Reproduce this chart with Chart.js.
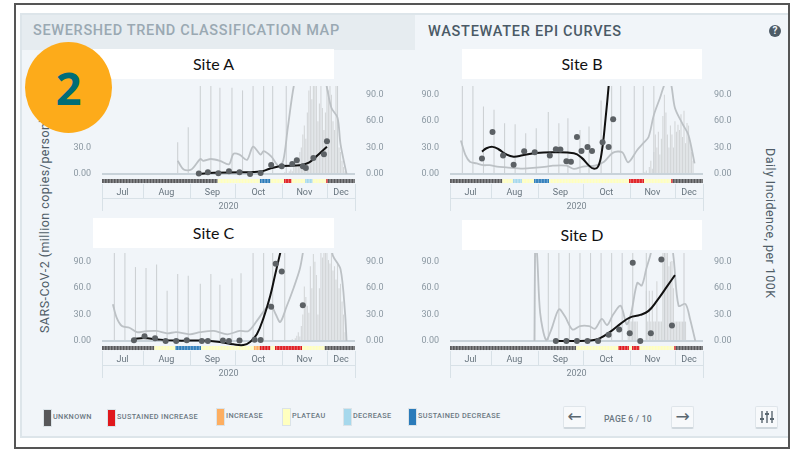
<!DOCTYPE html>
<html>
<head>
<meta charset="utf-8">
<script src="https://cdn.jsdelivr.net/npm/chart.js@4"></script>
<style>
  html, body { margin: 0; padding: 0; background: #fff; }
  body { width: 798px; height: 449px; position: relative; overflow: hidden; font-family: Roboto, sans-serif; }
  .abs { position: absolute; }
  #frame { left: 14px; top: 3px; width: 772px; height: 442px; border: 2px solid #555; border-bottom-width: 2px; box-sizing: content-box; }
  #panel { left: 20px; top: 13px; width: 768px; height: 425px; background: #f1f5f9; border-top: 2px solid #dde5ea; border-left: 2px solid #dde5ea; border-bottom: 2px solid #dde5ea; box-sizing: border-box; }
  #tab { left: 22px; top: 15px; width: 393px; height: 35px; background: #e6ecf0; }
  .tabtext { font-weight: 500; font-size: 14.5px; white-space: nowrap; }
  .site { background: #fff; color: #111; font: 16px Lato, sans-serif; text-align: center; line-height: 30px; height: 30px; }
  canvas { position: absolute; }
  #badge { left: 25px; top: 42px; width: 87px; height: 91px; border-radius: 50%; background: #fdab1a; color: #006d77; font: bold 45px/91px "Open Sans", sans-serif; text-align: center; z-index: 5; }
  .ytitle { color: #4f5d68; font-size: 12.5px; white-space: nowrap; letter-spacing: .45px; transform-origin: 0 0; }
  .swatch { width: 7px; height: 16px; border: 1px solid #dbe3e8; box-sizing: content-box; }
  .legtext { font-weight: 500; font-size: 7.3px; color: #6b7882; white-space: nowrap; letter-spacing: .35px; }
  .btn { width: 21px; height: 20px; background: #f7f9fb; border: 1px solid #dfe5ea; border-bottom: 2px solid #cfd7dd; border-radius: 2px; color: #5a6770; text-align: center; font: 17px/18px "DejaVu Sans", sans-serif; }
</style>
</head>
<body>
<div class="abs" id="panel"></div>
<div class="abs" id="frame"></div>
<div class="abs" id="tab"></div>
<div class="abs tabtext" style="left:33px;top:22px;color:#9aa9b3;letter-spacing:.67px">SEWERSHED TREND CLASSIFICATION MAP</div>
<div class="abs tabtext" style="left:428px;top:23px;color:#4a5a66;letter-spacing:.74px">WASTEWATER EPI CURVES</div>
<div class="abs" style="left:769px;top:25px;width:12px;height:12px;border-radius:50%;background:#4d5b66;color:#f1f5f9;font:bold 10px/12px Roboto;text-align:center">?</div>

<div class="abs site" style="left:93px;top:49px;width:241px">Site A</div>
<div class="abs site" style="left:462px;top:49px;width:240px">Site B</div>
<div class="abs site" style="left:93px;top:218px;width:241px">Site C</div>
<div class="abs site" style="left:462px;top:220px;width:240px">Site D</div>

<div class="abs ytitle" style="left:37px;top:333px;transform:rotate(-90deg)">SARS-CoV-2 (million copies/person)</div>
<div class="abs ytitle" style="left:778px;top:148px;transform:rotate(90deg)">Daily Incidence, per 100K</div>

<div class="abs" id="badge">2</div>

<div id="legend"></div>
<div class="abs btn" style="left:563px;top:406px">←</div>
<div class="abs legtext" style="left:604px;top:414px;font-size:8.6px;letter-spacing:.2px">PAGE 6 / 10</div>
<div class="abs btn" style="left:671px;top:406px">→</div>
<div class="abs btn" style="left:755px;top:406px">
  <svg width="14" height="14" viewBox="0 0 14 14" style="margin-top:3px" stroke="#5a6770" stroke-width="1.4">
    <path d="M2 1v12M7 1v12M12 1v12"/><path d="M0 9h4M5 4h4M10 9h4" stroke-width="2"/>
  </svg>
</div>

<script>
// x values are days counted from Jun 30 (31 = Jul 31)
const monthNames = ["Jul", "Aug", "Sep", "Oct", "Nov", "Dec"];
const monthEdges = [3.8, 31, 62, 92, 123, 153, 171.6];
const yearLabel = "2020";
const yTicks = [0, 30, 60, 90];

const legendNames = ["UNKNOWN", "SUSTAINED INCREASE", "INCREASE", "PLATEAU", "DECREASE", "SUSTAINED DECREASE"];
const legendColors = ["#58585a", "#e0181c", "#fdae61", "#ffffbf", "#a6d8ec", "#2b7bba"];

// Site A
const aPointDays = [68, 74, 81, 88, 95, 102, 109, 116, 123, 130, 133, 137, 139, 144, 151, 153];
const aPointVals = [0.4, 1.9, 0.8, 3, 1.9, 0, 1.1, 10.3, 8.7, 11.4, 15.6, 8.7, 6.8, 18.2, 22.4, 37.2];
const aTrendDays = [68, 78, 95, 109, 115, 123, 135, 141, 146, 153];
const aTrendVals = [0, 1.5, 1.9, 2.7, 6, 9, 10, 13, 20, 31];
const aLineDays = [54, 58, 63, 69, 71, 76, 82, 88, 91, 95, 100, 104, 109, 111, 116, 121, 124, 127, 131, 135, 149, 153, 156, 160, 162, 166];
const aLineVals = [15, 5, 5, 17, 15, 17, 15, 11, 23, 22, 16, 31, 22, 26, 20, 9, 15, 52, 100, 125, 130, 98, 75, 64, 34, 0];
const aSpikeDays = [54, 61, 69, 76, 82, 90, 97, 104, 111, 117, 126, 160];
const aSpikeVals = [36, 53, 110, 110, 98, 98, 95, 110, 110, 110, 110, 110];
const aDailyStart = 125;
const aDaily = [2, 1, 0, 3, 5, 3, 8, 12, 10, 18, 25, 30, 45, 55, 40, 70, 95, 100, 85, 100, 105, 100, 60, 80, 100, 75, 50, 70, 100, 95, 100, 90, 60, 50, 100, 45, 30, 25, 15, 8, 3];
const aStatusEnds = [81, 109, 116, 125, 130, 139, 144, 153, 154, 172];
const aStatusNames = [0, 3, 5, 3, 1, 3, 4, 3, 1, 0];

// Site B
const bPointDays = [25, 32, 39, 46, 53, 60, 70, 74, 77, 81, 84, 88, 91, 95, 98, 105, 109, 112];
const bPointVals = [17.5, 47.8, 20.9, 10.6, 25.8, 24.7, 20.9, 28.1, 27.7, 14.4, 14, 42.1, 26.2, 30.8, 26.2, 36.1, 30.8, 62.3];
const bTrendDays = [25, 28, 32, 36, 41, 46, 52, 61, 72, 86, 91, 96, 99, 102, 104.5, 107, 109, 111];
const bTrendVals = [25.4, 29.2, 30.8, 28.1, 22.4, 19.7, 21.3, 23.9, 24.7, 23.5, 18.6, 9.5, 6.1, 8.4, 25.4, 63.4, 99.5, 143];
const bLineDays = [11, 14, 17, 21.5, 26, 30, 35, 41, 52, 61, 68, 72, 81, 86, 92, 100, 106, 112, 118, 122, 128, 132, 135.5, 139, 143, 147, 150, 153, 158, 162, 166];
const bLineVals = [38, 21.6, 14, 12, 10, 10, 8.4, 7.6, 6.1, 7.2, 8.4, 9.5, 9.5, 5.7, 8.4, 9.5, 14, 24.3, 24.7, 13.3, 27.3, 35, 42, 67, 86, 105, 105, 75, 57, 44, 12];
const bSpikeDays = [12, 19, 26, 33, 40, 47, 54, 61, 69, 76, 82, 90, 96, 104, 111, 117, 126, 132, 139];
const bSpikeVals = [110, 110, 76.7, 72.9, 57.7, 56.6, 46.3, 52, 70.4, 57.7, 63.4, 50.1, 53.9, 83.5, 110, 110, 110, 110, 110];
const bDailyStart = 130;
const bDaily = [0, 1, 1, 2, 4, 1, 8, 15, 6, 25, 45, 30, 48, 22, 40, 66, 90, 70, 45, 30, 55, 45, 30, 60, 48, 56, 50, 68, 42, 72, 35, 58, 55, 38, 25, 15];
const bStatusEnds = [39, 46, 52, 60, 70, 123, 133, 151, 152, 172];
const bStatusNames = [0, 3, 4, 3, 5, 3, 1, 3, 1, 0];

// Site C
const cPointDays = [25, 32, 39, 46, 53, 60, 70, 74, 84, 88, 95, 105, 109, 116, 119, 123, 137];
const cPointVals = [0.8, 5.3, 3, 0, 0, 0.8, 0, 0, 0.4, 0, 0.4, 1.5, 1.1, 39, 87.7, 79, 40.6];
const cTrendDays = [25, 32, 40, 53, 69, 82, 91, 97.6, 102, 106.5, 111, 115.4, 118.7, 122, 124.6];
const cTrendVals = [2.3, 3.4, 1.9, 0.4, 0.4, -1.1, -3.8, -4.6, -1.1, 7.6, 26.6, 51.3, 75.9, 99.9, 119];
const cLineDays = [11, 13.5, 17, 22, 27, 32, 40, 47, 53, 62, 69, 78, 87, 95, 101, 106.5, 112, 115.4, 119, 122, 126, 131, 135, 137, 139, 153, 157, 162, 165, 166];
const cLineVals = [41.8, 26.6, 17, 15, 10, 11, 11.4, 8.7, 10, 7.6, 10, 11.4, 7.6, 11.4, 11.4, 22.8, 36, 41.8, 30.4, 21.6, 38, 60.8, 81.7, 100, 123, 123, 96.8, 81.7, 32, 0];
const cSpikeDays = [12, 19, 26, 33, 40, 47, 54, 61, 69, 76, 82, 90, 96, 104, 111, 117, 125];
const cSpikeVals = [110, 110, 84, 83, 87, 57, 76, 74, 65, 76, 64, 71, 77, 110, 110, 110, 110];
const cDailyStart = 128;
const cDaily = [0, 1, 2, 1, 3, 6, 10, 5, 17, 30, 62, 50, 40, 32, 85, 60, 99, 90, 75, 30, 60, 100, 95, 100, 105, 100, 92, 88, 100, 80, 85, 70, 90, 60, 65, 45, 30, 10];
const cStatusEnds = [39, 53, 70, 105, 109, 116, 119, 137, 152, 172];
const cStatusNames = [0, 3, 5, 3, 2, 1, 3, 1, 3, 0];

// Site D
const dPointDays = [74, 81, 88, 95, 102, 109, 116, 123, 125, 130, 137, 144, 151];
const dPointVals = [0, 0, 0, 0, 0, 7.2, 12.9, 8.7, 88.8, 0, 8.7, 92.6, 17.5];
const dTrendDays = [74, 86, 97, 103, 110, 117, 123, 130, 135.5, 141, 148, 153];
const dTrendVals = [0, 0, 0.5, 3, 10.3, 19.7, 26.6, 29.6, 34.2, 45.6, 62.6, 74.8];
const dLineDays = [59.8, 60.4, 61.5, 63.6, 67.5, 71, 76, 80, 85, 90, 96, 100, 104.5, 108, 112, 117, 121, 124, 128, 131, 134, 137, 139, 149, 152, 155.4, 160, 163, 166.5];
const dLineVals = [0, 110, 100, 32, 1, 13, 36, 28, 13, 17, 17, 14, 25, 18, 30, 40, 19, 32, 66, 63, 82, 100, 123, 123, 96, 40, 42, 25, 0];
const dSpikeDays = [60, 69, 76, 83, 90, 97, 104, 111, 118, 125, 134, 146, 159];
const dSpikeVals = [110, 110, 110, 110, 110, 110, 110, 110, 110, 110, 110, 110, 110];
const dDailyStart = 122;
const dDaily = [22, 22, 22, 22, 22, 22, 22, 0, 0, 0, 0, 0, 57, 22, 57, 22, 57, 22, 22, 68, 22, 22, 22, 100, 110, 110, 110, 85, 90, 91, 60, 22, 22, 22, 22, 22, 22, 22, 22, 0, 0, 0];
const dStatusEnds = [88, 116, 123, 125, 130, 153, 154, 172];
const dStatusNames = [0, 3, 1, 3, 1, 3, 1, 0];

function zip(xs, ys) {
  return xs.map((x, i) => ({ x: x, y: ys[i] }));
}

// one small floating bar per day for the status strip under the plot
function statusBars(ends, names) {
  const bars = [];
  let day = 4;
  ends.forEach((end, i) => {
    for (; day < end; day++) {
      bars.push({ x: day, y: [-10.3, -5.7], status: names[i] });
    }
  });
  return bars;
}

const monthBands = {
  id: "monthBands",
  afterDraw(chart) {
    const ctx = chart.ctx;
    const x = chart.scales.x;
    const top = chart.chartArea.bottom;
    ctx.save();
    ctx.strokeStyle = "#d8e1e7";
    ctx.lineWidth = 1;
    ctx.beginPath();
    monthEdges.forEach((edge, i) => {
      const px = Math.round(x.getPixelForValue(edge)) + 0.5;
      const outer = i === 0 || i === monthEdges.length - 1;
      ctx.moveTo(px, top);
      ctx.lineTo(px, top + (outer ? 27 : 14));
    });
    ctx.moveTo(x.left, top + 14.5);
    ctx.lineTo(x.right, top + 14.5);
    ctx.stroke();
    ctx.restore();
  },
};

function makeChart(left, top, s) {
  const canvas = document.createElement("canvas");
  canvas.width = 337;
  canvas.height = 129;
  canvas.style.left = left + "px";
  canvas.style.top = top + "px";
  document.body.appendChild(canvas);

  const noPad = (scale) => {
    scale.paddingTop = 0;
    scale.paddingBottom = 0;
    scale.paddingLeft = 0;
    scale.paddingRight = 0;
  };
  const yAxis = (position) => ({
    position: position,
    min: -11.4,
    max: 100,
    afterBuildTicks: (scale) => {
      scale.ticks = yTicks.map((v) => ({ value: v }));
    },
    afterFit: (scale) => {
      scale.width = 42;
      noPad(scale);
    },
    border: { display: false },
    grid: {
      drawTicks: false,
      lineWidth: 2,
      color: (c) => (c.tick && c.tick.value === 0 && position === "left" ? "#c8d2d9" : "transparent"),
    },
    ticks: {
      padding: 11,
      color: "#8b98a2",
      font: { family: "Roboto", size: 9 },
      callback: (v) => (v === 0 ? "0.00" : v.toFixed(1)),
    },
  });

  new Chart(canvas, {
    type: "bar",
    data: {
      datasets: [
        {
          type: "scatter",
          data: zip(s.pointDays, s.pointVals),
          backgroundColor: "#5c6165",
          borderWidth: 0,
          pointRadius: 3,
          order: 0,
        },
        {
          type: "line",
          data: zip(s.trendDays, s.trendVals),
          borderColor: "#111",
          borderWidth: 2,
          pointRadius: 0,
          tension: 0.4,
          order: 1,
        },
        {
          type: "line",
          data: zip(s.lineDays, s.lineVals),
          borderColor: "#bcc1c5",
          borderWidth: 1.8,
          pointRadius: 0,
          tension: 0.3,
          order: 2,
        },
        {
          data: zip(s.spikeDays, s.spikeVals),
          backgroundColor: "#cdd1d4",
          grouped: false,
          maxBarThickness: 1.3,
          order: 3,
        },
        {
          data: s.daily.map((v, i) => ({ x: s.dailyStart + i, y: v })),
          backgroundColor: "#d3d6d8",
          grouped: false,
          maxBarThickness: 1.3,
          order: 4,
        },
        {
          data: statusBars(s.statusEnds, s.statusNames),
          backgroundColor: (c) => (c.raw ? legendColors[c.raw.status] : "#000"),
          grouped: false,
          barPercentage: 0.9,
          categoryPercentage: 1,
          order: 5,
        },
      ],
    },
    options: {
      responsive: false,
      animation: false,
      layout: { padding: 0 },
      plugins: { legend: { display: false }, tooltip: { enabled: false } },
      scales: {
        x: {
          type: "linear",
          position: "bottom",
          offset: false,
          min: monthEdges[0],
          max: monthEdges[monthEdges.length - 1],
          afterBuildTicks: (scale) => {
            scale.ticks = monthNames.map((m, i) => ({ value: (monthEdges[i] + monthEdges[i + 1]) / 2 }));
          },
          afterFit: (scale) => {
            scale.height = 27;
            noPad(scale);
          },
          border: { display: false },
          grid: { display: false, drawTicks: false },
          title: {
            display: true,
            text: yearLabel,
            color: "#7b8791",
            font: { family: "Roboto", size: 9 },
            padding: { top: 0, bottom: -1 },
          },
          ticks: {
            autoSkip: false,
            maxRotation: 0,
            padding: 3,
            color: "#66737d",
            font: { family: "Roboto", size: 9 },
            callback: (v, i) => monthNames[i],
          },
        },
        y: yAxis("left"),
        yRight: yAxis("right"),
      },
    },
    plugins: [monthBands],
  });
}

// canvas tops sit a little above the plot top, the layout keeps that gap
makeChart(60, 82, {
  pointDays: aPointDays, pointVals: aPointVals, trendDays: aTrendDays, trendVals: aTrendVals,
  lineDays: aLineDays, lineVals: aLineVals, spikeDays: aSpikeDays, spikeVals: aSpikeVals,
  dailyStart: aDailyStart, daily: aDaily, statusEnds: aStatusEnds, statusNames: aStatusNames,
});
makeChart(408, 82, {
  pointDays: bPointDays, pointVals: bPointVals, trendDays: bTrendDays, trendVals: bTrendVals,
  lineDays: bLineDays, lineVals: bLineVals, spikeDays: bSpikeDays, spikeVals: bSpikeVals,
  dailyStart: bDailyStart, daily: bDaily, statusEnds: bStatusEnds, statusNames: bStatusNames,
});
makeChart(60, 249, {
  pointDays: cPointDays, pointVals: cPointVals, trendDays: cTrendDays, trendVals: cTrendVals,
  lineDays: cLineDays, lineVals: cLineVals, spikeDays: cSpikeDays, spikeVals: cSpikeVals,
  dailyStart: cDailyStart, daily: cDaily, statusEnds: cStatusEnds, statusNames: cStatusNames,
});
makeChart(408, 249, {
  pointDays: dPointDays, pointVals: dPointVals, trendDays: dTrendDays, trendVals: dTrendVals,
  lineDays: dLineDays, lineVals: dLineVals, spikeDays: dSpikeDays, spikeVals: dSpikeVals,
  dailyStart: dDailyStart, daily: dDaily, statusEnds: dStatusEnds, statusNames: dStatusNames,
});

// legend row at the bottom of the panel
const swatchLeft = [43, 107, 216, 282, 343, 408];
const legend = document.getElementById("legend");
legendNames.forEach((name, i) => {
  const sw = document.createElement("div");
  sw.className = "abs swatch";
  sw.style.cssText = `left:${swatchLeft[i]}px;top:${i < 2 ? 409 : 408}px;background:${legendColors[i]}`;
  const label = document.createElement("div");
  label.className = "abs legtext";
  label.style.cssText = `left:${swatchLeft[i] + 10}px;top:${i < 2 ? 412 : 411}px`;
  label.textContent = name;
  legend.appendChild(sw);
  legend.appendChild(label);
});
</script>
</body>
</html>
